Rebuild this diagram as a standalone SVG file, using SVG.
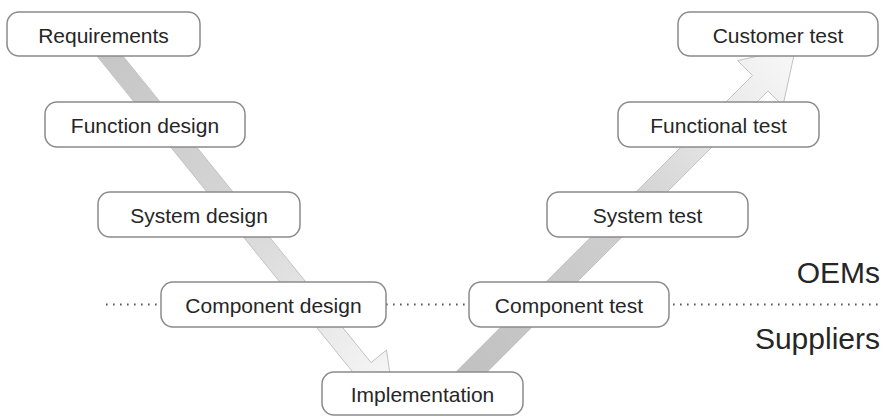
<svg xmlns="http://www.w3.org/2000/svg" width="890" height="416" viewBox="0 0 890 416">
  <style>
    .box { fill: #ffffff; stroke: #8a8a8a; stroke-width: 1.5; }
    .lbl { font-family: "Liberation Sans", Arial, Helvetica, sans-serif; font-size: 21px; fill: #262626; text-anchor: middle; }
    .side { font-family: "Liberation Sans", Arial, Helvetica, sans-serif; font-size: 30px; fill: #262626; text-anchor: end; }
    .arrow { stroke: #c2c2c2; stroke-width: 1; stroke-linejoin: miter; }
    .divider { stroke: #555555; stroke-width: 2; stroke-dasharray: 1.6 5.4; fill: none; }
  </style>
  <defs>
    <linearGradient id="gDown" gradientUnits="userSpaceOnUse" x1="80" y1="20" x2="395" y2="408">
      <stop offset="0" stop-color="#c3c3c3"/>
      <stop offset="0.5" stop-color="#d6d6d6"/>
      <stop offset="0.85" stop-color="#eeeeee"/>
      <stop offset="1" stop-color="#fbfbfb"/>
    </linearGradient>
    <linearGradient id="gUp" gradientUnits="userSpaceOnUse" x1="453" y1="390" x2="796" y2="48">
      <stop offset="0" stop-color="#c0c0c0"/>
      <stop offset="0.5" stop-color="#cfcfcf"/>
      <stop offset="0.82" stop-color="#ebebeb"/>
      <stop offset="1" stop-color="#f8f8f8"/>
    </linearGradient>
  </defs>

  <rect width="890" height="416" fill="#ffffff"/>

  <g id="connectors">
    <polygon id="arrow-down" class="arrow" fill="url(#gDown)"
      points="72.95,26.35 88.65,13.65 371.05,362.55 386.5,350 394.7,407.8 339.9,387.8 355.35,375.25"/>
    <polygon id="arrow-up" class="arrow" fill="url(#gUp)"
      points="445.7,382.2 461.3,397.8 768,91 782.9,105.9 795.6,47.9 737.6,60.6 752.5,75.5"/>
  </g>

  <g id="divider">
    <line class="divider" x1="106" y1="304.5" x2="880" y2="304.5"/>
    <text class="side" x="880" y="283">OEMs</text>
    <text class="side" x="880" y="349">Suppliers</text>
  </g>

  <g id="requirements">
    <rect class="box" x="7" y="12" width="193" height="44" rx="12"/>
    <text class="lbl" x="103.5" y="42.5">Requirements</text>
  </g>
  <g id="function-design">
    <rect class="box" x="45" y="102" width="200" height="45" rx="12"/>
    <text class="lbl" x="145" y="132.5">Function design</text>
  </g>
  <g id="system-design">
    <rect class="box" x="98" y="192" width="202" height="45" rx="12"/>
    <text class="lbl" x="199" y="222.5">System design</text>
  </g>
  <g id="component-design">
    <rect class="box" x="161" y="282" width="225" height="45" rx="12"/>
    <text class="lbl" x="273.5" y="312.5">Component design</text>
  </g>
  <g id="implementation">
    <rect class="box" x="322" y="372" width="201" height="43" rx="12"/>
    <text class="lbl" x="422.5" y="401.5">Implementation</text>
  </g>
  <g id="component-test">
    <rect class="box" x="469" y="282" width="200" height="45" rx="12"/>
    <text class="lbl" x="569" y="312.5">Component test</text>
  </g>
  <g id="system-test">
    <rect class="box" x="547" y="192" width="201" height="45" rx="12"/>
    <text class="lbl" x="647.5" y="222.5">System test</text>
  </g>
  <g id="functional-test">
    <rect class="box" x="618" y="102" width="201" height="45" rx="12"/>
    <text class="lbl" x="718.5" y="132.5">Functional test</text>
  </g>
  <g id="customer-test">
    <rect class="box" x="678" y="12" width="200" height="44" rx="12"/>
    <text class="lbl" x="778" y="42.5">Customer test</text>
  </g>
</svg>
